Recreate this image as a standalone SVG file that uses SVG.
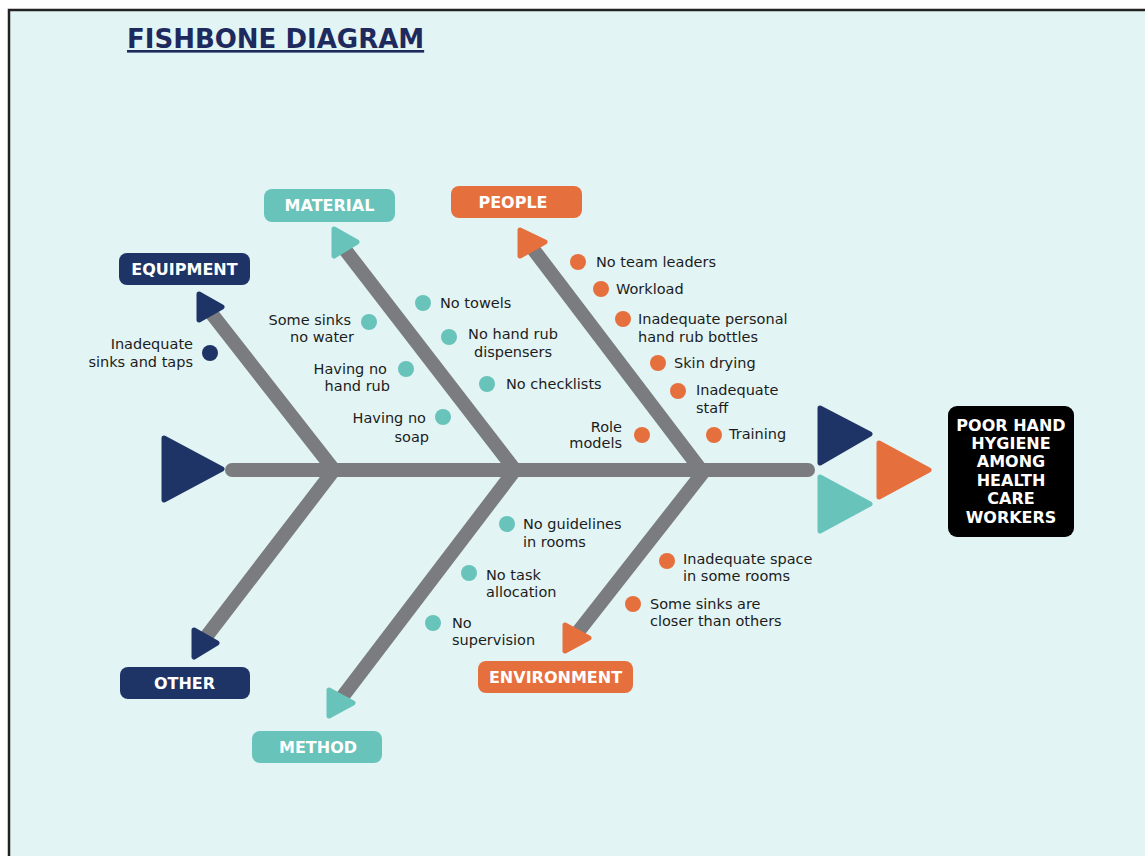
<svg xmlns="http://www.w3.org/2000/svg" width="1145" height="856" viewBox="0 0 1145 856">
<style>
.bg{fill:#e3f4f4}
.bone{stroke:#7a7c7f;stroke-width:14;fill:none}
.navy{fill:#1e3466;stroke:#1e3466}
.teal{fill:#68c3ba;stroke:#68c3ba}
.orange{fill:#e5703d;stroke:#e5703d}
.tri{stroke-width:5;stroke-linejoin:round}
.lbl{font-family:"DejaVu Sans",sans-serif;font-weight:bold;font-size:16px;fill:#ffffff;text-anchor:middle}
.t{font-family:"DejaVu Sans",sans-serif;font-size:14.5px;fill:#1c1c1c}
.e{text-anchor:end}
.m{text-anchor:middle}
.dn{fill:#1e3466}
.dt{fill:#68c3ba}
.do{fill:#e5703d}
</style>
<rect x="0" y="0" width="1145" height="856" fill="#ffffff"/>
<rect x="9" y="10" width="1136" height="846" class="bg"/>
<path d="M9 856 V10 H1145" fill="none" stroke="#222222" stroke-width="2.5"/>
<text x="127" y="48" font-family="DejaVu Sans, sans-serif" font-weight="bold" font-size="26" fill="#1e2a5e" text-decoration="underline">FISHBONE DIAGRAM</text>

<g id="connectors">
<line class="bone" x1="232" y1="470" x2="808" y2="470" stroke-linecap="round" stroke-width="16.5"/>
<line class="bone" x1="334" y1="470" x2="208" y2="309"/>
<line class="bone" x1="334" y1="470" x2="206" y2="637"/>
<line class="bone" x1="515" y1="470" x2="343" y2="247"/>
<line class="bone" x1="515" y1="470" x2="340" y2="700"/>
<line class="bone" x1="701" y1="470" x2="530" y2="245"/>
<line class="bone" x1="705" y1="470" x2="578" y2="632"/>
<polygon class="navy tri" points="164,438 222,469 164,500"/>
<polygon class="navy tri" points="199,294 222,307 199,320"/>
<polygon class="teal tri" points="334,229 357,242 334,256"/>
<polygon class="orange tri" points="520,230 545,242 520,256"/>
<polygon class="navy tri" points="194,630 217,643 194,657"/>
<polygon class="teal tri" points="329,690 353,703 329,716"/>
<polygon class="orange tri" points="565,625 589,638 565,651"/>
<polygon class="navy tri" points="820,408 870,434 820,463"/>
<polygon class="teal tri" points="820,477 870,504 820,531"/>
<polygon class="orange tri" points="879,443 929,470 879,497"/>
</g>

<g id="effect">
<rect x="948" y="406" width="126" height="131" rx="9" fill="#000000"/>
<text class="lbl" font-size="15" x="1011" y="430.5">POOR HAND</text>
<text class="lbl" font-size="15" x="1011" y="448.9">HYGIENE</text>
<text class="lbl" font-size="15" x="1011" y="467.3">AMONG</text>
<text class="lbl" font-size="15" x="1011" y="485.7">HEALTH</text>
<text class="lbl" font-size="15" x="1011" y="504.1">CARE</text>
<text class="lbl" font-size="15" x="1011" y="522.5">WORKERS</text>
</g>

<g id="material">
<rect x="264" y="189" width="131" height="33" rx="8" fill="#68c3ba"/>
<text class="lbl" x="329.5" y="211">MATERIAL</text>
</g>
<g id="equipment">
<rect x="119" y="253" width="131" height="32" rx="8" fill="#1e3466"/>
<text class="lbl" x="184.5" y="275">EQUIPMENT</text>
</g>
<g id="people">
<rect x="451" y="186" width="131" height="32" rx="8" fill="#e5703d"/>
<text class="lbl" x="513" y="208">PEOPLE</text>
</g>
<g id="other">
<rect x="120" y="667" width="130" height="32" rx="8" fill="#1e3466"/>
<text class="lbl" x="184.5" y="689">OTHER</text>
</g>
<g id="method">
<rect x="252" y="731" width="130" height="32" rx="8" fill="#68c3ba"/>
<text class="lbl" x="318" y="753">METHOD</text>
</g>
<g id="environment">
<rect x="478" y="661" width="155" height="32" rx="8" fill="#e5703d"/>
<text class="lbl" x="555.5" y="683">ENVIRONMENT</text>
</g>

<g id="equipment-causes">
<circle class="dn" cx="210" cy="353" r="8"/>
<text class="t e" x="193" y="349">Inadequate</text>
<text class="t e" x="193" y="367">sinks and taps</text>
</g>

<g id="material-causes">
<circle class="dt" cx="369" cy="322" r="8"/>
<text class="t e" x="351" y="325">Some sinks</text>
<text class="t e" x="354" y="342">no water</text>
<circle class="dt" cx="406" cy="369" r="8"/>
<text class="t e" x="387" y="374">Having no</text>
<text class="t e" x="390" y="391">hand rub</text>
<circle class="dt" cx="443" cy="417" r="8"/>
<text class="t e" x="426" y="423">Having no</text>
<text class="t e" x="429" y="442">soap</text>
<circle class="dt" cx="423" cy="303" r="8"/>
<text class="t" x="440" y="308">No towels</text>
<circle class="dt" cx="449" cy="337" r="8"/>
<text class="t m" x="513" y="339">No hand rub</text>
<text class="t m" x="513" y="357">dispensers</text>
<circle class="dt" cx="487" cy="384" r="8"/>
<text class="t" x="506" y="389">No checklists</text>
</g>

<g id="people-causes">
<circle class="do" cx="578" cy="262" r="8"/>
<text class="t" x="596" y="267">No team leaders</text>
<circle class="do" cx="601" cy="289" r="8"/>
<text class="t" x="616" y="294">Workload</text>
<circle class="do" cx="623" cy="319" r="8"/>
<text class="t" x="638" y="324">Inadequate personal</text>
<text class="t" x="638" y="342">hand rub bottles</text>
<circle class="do" cx="658" cy="363" r="8"/>
<text class="t" x="674" y="368">Skin drying</text>
<circle class="do" cx="678" cy="391" r="8"/>
<text class="t" x="696" y="395">Inadequate</text>
<text class="t" x="696" y="413">staff</text>
<circle class="do" cx="714" cy="435" r="8"/>
<text class="t" x="729" y="439">Training</text>
<circle class="do" cx="642" cy="435" r="8"/>
<text class="t e" x="622" y="432">Role</text>
<text class="t e" x="622" y="448">models</text>
</g>

<g id="method-causes">
<circle class="dt" cx="507" cy="524" r="8"/>
<text class="t" x="523" y="529">No guidelines</text>
<text class="t" x="523" y="547">in rooms</text>
<circle class="dt" cx="469" cy="573" r="8"/>
<text class="t" x="486" y="580">No task</text>
<text class="t" x="486" y="597">allocation</text>
<circle class="dt" cx="433" cy="623" r="8"/>
<text class="t" x="452" y="628">No</text>
<text class="t" x="452" y="645">supervision</text>
</g>

<g id="environment-causes">
<circle class="do" cx="667" cy="561" r="8"/>
<text class="t" x="683" y="564">Inadequate space</text>
<text class="t" x="683" y="581">in some rooms</text>
<circle class="do" cx="633" cy="604" r="8"/>
<text class="t" x="650" y="609">Some sinks are</text>
<text class="t" x="650" y="626">closer than others</text>
</g>
</svg>
